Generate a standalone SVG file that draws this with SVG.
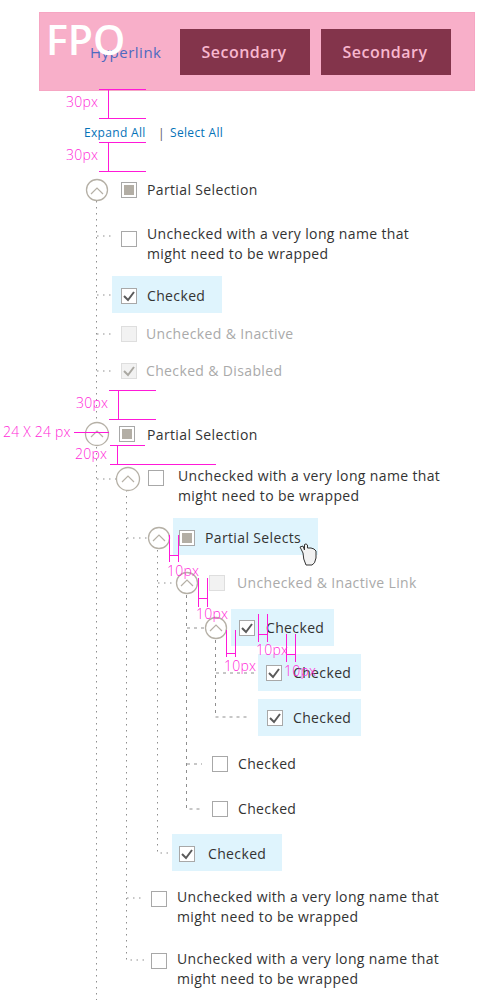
<svg xmlns="http://www.w3.org/2000/svg" width="479" height="1000" viewBox="0 0 479 1000">
<style>
text{font-family:"Open Sans","Liberation Sans",sans-serif;font-size:14px;letter-spacing:.36px;fill:#333}
.sel{fill:#dff4fd}
.cb{fill:#fff;stroke:#a8a8a8;stroke-width:1}
.dis{fill:#f2f2f2;stroke:#dedede;stroke-width:1}
.fill{fill:#b3aea5}
.chk{fill:none;stroke:#5a5a5a;stroke-width:2}
.chkd{fill:none;stroke:#aaa8a2;stroke-width:2}
.tog{fill:#fff;stroke:#b5b0a6;stroke-width:1.3}
.chev{fill:none;stroke:#b5b0a6;stroke-width:1.2}
.dot{fill:none;stroke:#8f8f8f;stroke-width:1;stroke-dasharray:1.500 4.500}
.dash{fill:none;stroke:#8f8f8f;stroke-width:1;stroke-dasharray:3 4}
.m{fill:none;stroke:#ff19d8;stroke-width:1}
.ml{fill:#ff2ad8;font-size:14px;font-weight:300;letter-spacing:.2px}
.lnk{fill:#0572b8;font-size:12px;letter-spacing:.33px}
.btn{font-size:16px;font-weight:600;letter-spacing:.5px;fill:#f8b7cf}
</style>
<g id="connectors">
<path class="dot" d="M96.500 201V1000"/>
<path class="dot" d="M97 236H114M97 295H112M97 334H114M97 371H114M97 479H117"/>
<path class="dot" d="M126.500 490V960H145M127 898H145"/>
<path class="dot" d="M127 538H148"/>
<path class="dot" d="M157.500 550V853H172M158 583H176"/>
<path class="dash" d="M186.500 595V809H202M187 628H205M187 764H202"/>
<path class="dash" d="M215.500 640V717H250M216 673H256"/>
</g>
<g id="fpo-bar">
<rect x="39.500" y="12.500" width="435" height="78" fill="#f8afc9" stroke="#f6a6c3"/>
<text x="90" y="58" style="font-size:15px;fill:#4d6ac0;letter-spacing:.5px">Hyperlink</text>
<rect x="180" y="29" width="130" height="46" fill="#83344b"/>
<text x="244" y="58" text-anchor="middle" class="btn">Secondary</text>
<rect x="321" y="29" width="130" height="46" fill="#83344b"/>
<text x="385" y="58" text-anchor="middle" class="btn">Secondary</text>
<text x="46" y="55" style="font-size:41px;font-weight:600;fill:#fff;letter-spacing:0">FPO</text>
</g>
<g id="expand-select">
<text x="84" y="137" class="lnk">Expand All</text>
<text x="158" y="138" style="font-size:12px;fill:#555">|</text>
<text x="170" y="137" class="lnk">Select All</text>
</g>
<g id="node-partial-1">
<circle cx="97" cy="190" r="10.500" class="tog"/><path class="chev" d="M91 194L97 188L103 194"/>
<rect x="121.500" y="182.500" width="15" height="15" class="cb"/><rect x="124" y="185" width="10" height="10" class="fill"/>
<text x="147" y="195">Partial Selection</text>
</g>
<g id="node-long-1">
<rect x="121.500" y="231.500" width="15" height="15" class="cb"/>
<text x="147" y="239">Unchecked with a very long name that</text>
<text x="147" y="259">might need to be wrapped</text>
</g>
<g id="node-checked-1">
<rect x="112" y="276" width="110" height="37" class="sel"/>
<rect x="121.500" y="288.500" width="15" height="15" class="cb"/><path class="chk" d="M124 296L128 300L134 292"/>
<text x="147" y="301">Checked</text>
</g>
<g id="node-inactive-1">
<rect x="121.500" y="326.500" width="15" height="15" class="dis"/>
<text x="146" y="339" style="fill:#aaa">Unchecked &amp; Inactive</text>
</g>
<g id="node-disabled-1">
<rect x="121.500" y="363.500" width="15" height="15" class="dis"/><path class="chkd" d="M124 371L128 375L134 367"/>
<text x="146" y="376" style="fill:#aaa">Checked &amp; Disabled</text>
</g>
<g id="node-partial-2">
<circle cx="97" cy="434" r="11.500" class="tog"/><path class="chev" d="M91 437L97 431L103 437"/>
<rect x="119.500" y="426.500" width="15" height="15" class="cb"/><rect x="122" y="429" width="10" height="10" class="fill"/>
<text x="147" y="440">Partial Selection</text>
</g>
<g id="node-long-2">
<circle cx="128" cy="479" r="11.500" class="tog"/><path class="chev" d="M122 482L128 476L134 482"/>
<rect x="148.500" y="470.500" width="15" height="15" class="cb"/>
<text x="178" y="481">Unchecked with a very long name that</text>
<text x="178" y="501">might need to be wrapped</text>
</g>
<g id="node-partial-selects">
<rect x="173" y="518" width="145" height="37" class="sel"/>
<circle cx="159" cy="538" r="10.500" class="tog"/><path class="chev" d="M153 541L159 535L165 541"/>
<rect x="179.500" y="530.500" width="15" height="15" class="cb"/><rect x="182" y="533" width="10" height="10" class="fill"/>
<text x="205" y="543">Partial Selects</text>
<path d="M303 553L300 547L303 546L304.500 550V544.500Q306 543 307.500 545V548L311 548L314 549L316 551V558Q315 564 312 565H306Q303 559 303 553Z" fill="#f2f2f2" stroke="#333" stroke-width="1"/>
</g>
<g id="node-inactive-2">
<circle cx="187" cy="583" r="10.500" class="tog"/><path class="chev" d="M181 586L187 580L193 586"/>
<rect x="209.500" y="575.500" width="15" height="15" class="dis"/>
<text x="237" y="588" style="fill:#aaa">Unchecked &amp; Inactive Link</text>
</g>
<g id="node-checked-2">
<rect x="231" y="609" width="103" height="37" class="sel"/>
<circle cx="216" cy="628" r="10.500" class="tog"/><path class="chev" d="M210 631L216 625L222 631"/>
<rect x="239.500" y="620.500" width="15" height="15" class="cb"/><path class="chk" d="M242 628L246 632L252 624"/>
<text x="266" y="633">Checked</text>
</g>
<g id="node-checked-3">
<rect x="258" y="654" width="103" height="37" class="sel"/>
<rect x="266.500" y="665.500" width="15" height="15" class="cb"/><path class="chk" d="M269 673L273 677L279 669"/>
<text x="293" y="678">Checked</text>
</g>
<g id="node-checked-4">
<rect x="258" y="699" width="103" height="37" class="sel"/>
<rect x="267.500" y="710.500" width="15" height="15" class="cb"/><path class="chk" d="M270 718L274 722L280 714"/>
<text x="293" y="723">Checked</text>
</g>
<g id="node-checked-5">
<rect x="212.500" y="756.500" width="15" height="15" class="cb"/>
<text x="238" y="769">Checked</text>
</g>
<g id="node-checked-6">
<rect x="212.500" y="801.500" width="15" height="15" class="cb"/>
<text x="238" y="814">Checked</text>
</g>
<g id="node-checked-7">
<rect x="172" y="834" width="110" height="37" class="sel"/>
<rect x="179.500" y="846.500" width="15" height="15" class="cb"/><path class="chk" d="M182 854L186 858L192 850"/>
<text x="208" y="859">Checked</text>
</g>
<g id="node-long-3">
<rect x="151.500" y="891.500" width="15" height="15" class="cb"/>
<text x="177" y="902">Unchecked with a very long name that</text>
<text x="177" y="922">might need to be wrapped</text>
</g>
<g id="node-long-4">
<rect x="151.500" y="953.500" width="15" height="15" class="cb"/>
<text x="177" y="964">Unchecked with a very long name that</text>
<text x="177" y="984">might need to be wrapped</text>
</g>
<g id="redlines">
<path class="m" d="M99 89.500H146M108.500 90V118M99 118.500H146"/>
<path class="m" d="M99 142.500H146M108.500 143V171M99 171.500H146"/>
<path class="m" d="M109 390.500H156M118.500 391V419M109 419.500H156"/>
<path class="m" d="M74 432.500H109"/>
<path class="m" d="M110 445.500H145M117.500 446V464M110 464.500H216"/>
<path class="m" d="M169.500 535V562M178.500 535V562M170 555.500H178"/>
<path class="m" d="M198.500 578V607M207.500 578V607M199 598.500H207"/>
<path class="m" d="M226.500 630V657M235.500 630V657M227 653.500H235"/>
<path class="m" d="M258.500 614V642M267.500 614V642M259 634.500H267"/>
<path class="m" d="M286.500 634V662M295.500 634V662M287 654.500H295"/>
<text x="66" y="107" class="ml">30px</text>
<text x="66" y="160" class="ml">30px</text>
<text x="76" y="408" class="ml">30px</text>
<text x="3" y="437" class="ml">24 X 24 px</text>
<text x="75" y="459" class="ml">20px</text>
<text x="167" y="576" class="ml">10px</text>
<text x="196" y="619" class="ml">10px</text>
<text x="224" y="671" class="ml">10px</text>
<text x="256" y="655" class="ml">10px</text>
<text x="284" y="676" class="ml">10px</text>
</g>
</svg>
